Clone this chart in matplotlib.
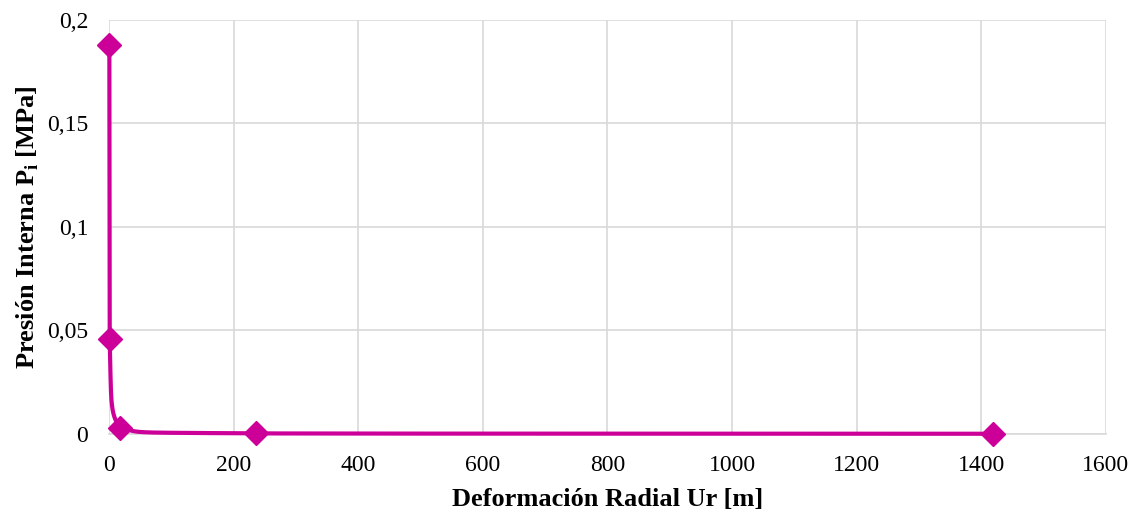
import matplotlib.pyplot as plt
import numpy as np

# data
ur = [0.5, 1.0, 17.0, 236.0, 1418.0]
pi = [0.188, 0.046, 0.003, 0.0002, 0.00003]

color = '#CC0099'
plt.rcParams['font.family'] = ['Liberation Serif', 'DejaVu Serif']


def smooth(x, y, n=80):
    # Bezier curve through the points (Excel-like smoothed line),
    # control points kept inside each segment's box so it never overshoots
    px = np.concatenate([[2 * x[0] - x[1]], x, [2 * x[-1] - x[-2]]])
    py = np.concatenate([[2 * y[0] - y[1]], y, [2 * y[-1] - y[-2]]])
    sx, sy = [], []
    t = np.linspace(0, 1, n)[:, None]
    for i in range(1, len(px) - 2):
        p0, p1, p2, p3 = [np.array([px[j], py[j]]) for j in range(i - 1, i + 3)]
        lo = np.minimum(p1, p2)
        hi = np.maximum(p1, p2)
        c1 = np.clip(p1 + (p2 - p0) / 6, lo, hi)
        c2 = np.clip(p2 - (p3 - p1) / 6, lo, hi)
        b = (1 - t) ** 3 * p1 + 3 * (1 - t) ** 2 * t * c1 + 3 * (1 - t) * t ** 2 * c2 + t ** 3 * p2
        sx.extend(b[:, 0])
        sy.extend(b[:, 1])
    return np.array(sx), np.array(sy)


fig = plt.figure(figsize=(11.37, 5.14), dpi=100)
ax = fig.add_axes([0.0959, 0.156, 0.8768, 0.805])

# work in screen-like units so the bends look like the original
xs, ys = smooth(np.array(ur) / 1600 * 997, np.array(pi) / 0.2 * 414)
ax.plot(xs / 997 * 1600, ys / 414 * 0.2, color=color, lw=3, solid_capstyle='round',
        zorder=3, clip_on=False)
ax.plot(ur, pi, 'D', color=color, ms=12, zorder=4, clip_on=False)

ax.set_xlim(0, 1600)
ax.set_ylim(0, 0.2)
ax.set_xticks(range(0, 1601, 200))
ax.set_yticks([0, 0.05, 0.1, 0.15, 0.2])
ax.set_yticklabels(['0', '0,05', '0,1', '0,15', '0,2'])
ax.grid(True, color='#d9d9d9', lw=1.2)
ax.set_axisbelow(True)
for s in ['top', 'right', 'left']:
    ax.spines[s].set_visible(False)
ax.spines['bottom'].set_color('#d9d9d9')
ax.spines['bottom'].set_linewidth(1.2)
ax.tick_params(length=0, labelsize=17)
ax.tick_params(axis='y', pad=15)
ax.tick_params(axis='x', pad=15)

ax.set_xlabel('Deformación Radial Ur [m]', fontsize=19, fontweight='bold', labelpad=9)
ax.set_ylabel('Presión Interna P$_\\mathregular{i}$ [MPa]', fontsize=19, fontweight='bold', labelpad=4)

fig.savefig('out.png', dpi=100)
